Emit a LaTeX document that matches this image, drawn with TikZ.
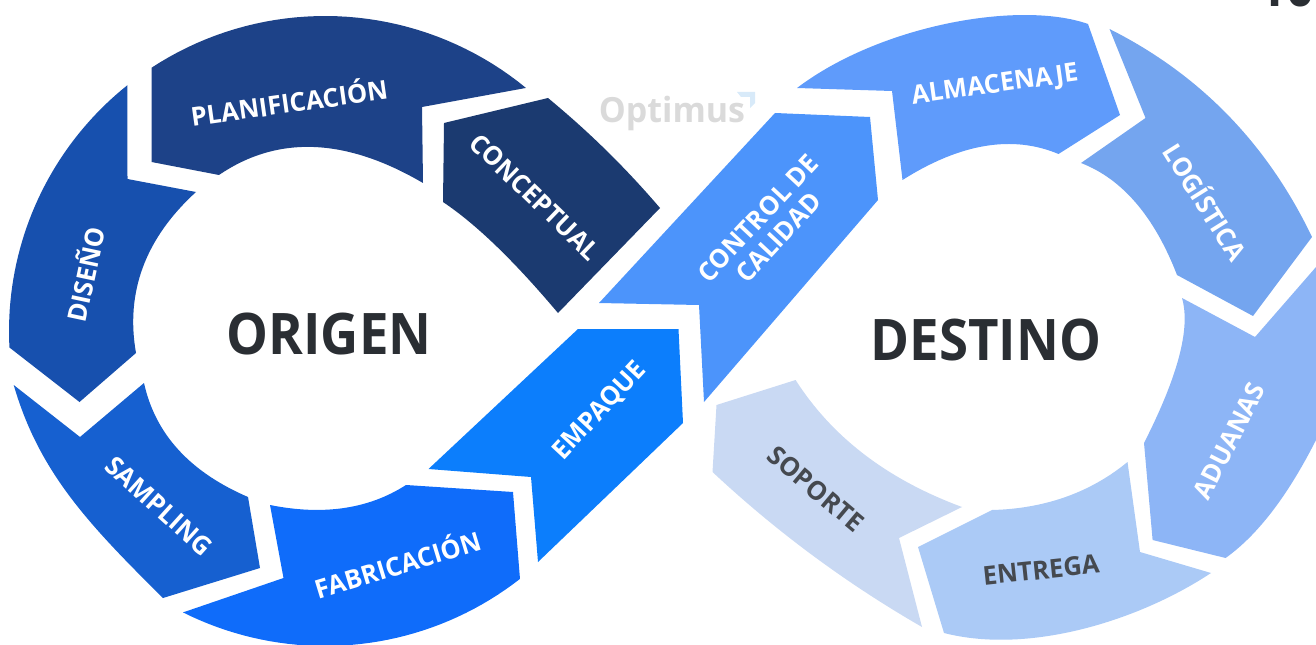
\documentclass[tikz,border=0pt]{standalone}
\usepackage{fontspec}
\setmainfont{Open Sans}
\newfontfamily\semi{Open Sans}[BoldFeatures={FakeStretch=0.98}]
\newfontfamily\heavy{Open Sans}[BoldFeatures={FakeStretch=0.92}]
\definecolor{cConcept}{HTML}{1B3A70}
\definecolor{cPlan}{HTML}{1D4288}
\definecolor{cDis}{HTML}{1750AE}
\definecolor{cSamp}{HTML}{1660D0}
\definecolor{cFab}{HTML}{0F6CFA}
\definecolor{cEmp}{HTML}{0C7EFC}
\definecolor{cCtrl}{HTML}{4C94FB}
\definecolor{cAlm}{HTML}{5F9BFB}
\definecolor{cLog}{HTML}{74A5EF}
\definecolor{cAdu}{HTML}{8DB5F6}
\definecolor{cEnt}{HTML}{ABCAF6}
\definecolor{cSop}{HTML}{C9D9F3}
\definecolor{cDark}{HTML}{2A2E33}
\definecolor{cGreyT}{HTML}{45494F}
\definecolor{cLogo}{HTML}{DADADA}
\definecolor{cLogoA}{HTML}{D8EAF9}
\tikzset{
  lab/.style={font=\semi\bfseries\fontsize{19.5}{21}\selectfont,text=white,inner sep=0pt,align=center},
  labd/.style={lab,text=cGreyT},
  big/.style={font=\heavy\bfseries\fontsize{43}{45}\selectfont,text=cDark,inner sep=0pt},
  ring/.style 2 args={domain=#1:#2,samples=40,variable=\t}
}
\begin{document}
\begin{tikzpicture}[x=0.75pt,y=-0.75pt]
\useasboundingbox (0,0) rectangle (1316,645);
\clip (0,0) rectangle (1316,645);
% planificacion
\fill[cPlan] (151.5,162) -- plot[ring={123.3}{50.5}] ({325+316*cos(\t)},{331-315*sin(\t)}) -- (422,107) -- (423,183) .. controls (345.7,137.7) and (277.7,135) .. (219,175) -- cycle;
% conceptual
\fill[cConcept] (444,123) -- (548,98) .. controls (582.7,126.7) and (620,161.3) .. (660,208) -- (558,313) .. controls (515,262) and (477.3,225) .. (443,202) -- cycle;
% diseno
\fill[cDis] (127.5,179) -- (196,192) .. controls (145.3,238.3) and (125.3,292) .. (136,353) -- (79.5,402) -- plot[ring={-177}{-231.3}] ({325+316*cos(\t)},{331-315*sin(\t)}) -- cycle;
% sampling
\fill[cSamp] (13.7,385) -- (80,437) -- (144,383) .. controls (155.3,434.3) and (190,472) .. (248,497) -- (260,568) -- (163,598) .. controls (89,524.7) and (39.2,472.7) .. (13.7,385) -- cycle;
% fabricacion
\fill[cFab] (270,505) .. controls (323.3,515.7) and (368.7,509) .. (406,485) -- (513,492) -- plot[ring={-51.9}{-116.7}] ({325+316*cos(\t)},{331-315*sin(\t)}) -- (283.5,578) -- cycle;
% empaque
\fill[cEmp] (578,329) -- (678.5,329) -- (683,423) -- (538,562) -- (531,477) -- (428.5,469) -- cycle;
% control
\fill[cCtrl] (775,113) -- (870,117) -- (878,200) -- (704,402) -- (699,305) -- (599,303) -- cycle;
% almacenaje
\fill[cAlm] (797,88) .. controls (880,25) and (1020,0) .. (1088,24) -- (1120,115) -- (1058.5,154) .. controls (1012.5,134.7) and (960.5,143.3) .. (902.5,180) -- (892,91) -- cycle;
% logistica
\fill[cLog] (1109.5,29) .. controls (1199.8,74.3) and (1267.3,143.7) .. (1312,237) -- (1253,316) -- (1177,275) .. controls (1154.3,216.3) and (1122.3,179) .. (1081,163) -- (1145.5,118) -- cycle;
% aduanas
\fill[cAdu] (1182,298) -- (1255,337) -- (1316,267) -- (1320,440) -- (1316,440) .. controls (1287.3,496.7) and (1257.3,535.3) .. (1225.6,558) -- (1152.6,540) -- (1144,443) .. controls (1178,376) and (1190.7,328.3) .. (1182,298) -- cycle;
% entrega
\fill[cEnt] (918,547) -- (992,510) .. controls (1044,508.7) and (1089.8,493) .. (1127.5,462) -- (1140,552) -- (1211,573) .. controls (1140,620) and (1030,655) .. (944,633) -- cycle;
% soporte
\fill[cSop] (716.5,405) -- (795.6,380) .. controls (832.5,437.7) and (888,479.7) .. (962,507) -- (899,538) -- (922,627) .. controls (842.7,581.3) and (773.5,529) .. (712.5,472) -- cycle;
% labels
\node[lab,rotate=8] (tplan) at (289,101) {PLANIFICACIÓN};
\node[lab,rotate=-44] (tconc) at (535,197) {CONCEPTUAL};
\node[lab,rotate=78] (tdis) at (84,274) {DISEÑO};
\node[lab,rotate=-42] (tsamp) at (159,506) {SAMPLING};
\node[lab,rotate=17] (tfab) at (397,563) {FABRICACIÓN};
\node[lab,rotate=47] (temp) at (600,411) {EMPAQUE};
\node[lab,rotate=47] (tctrl) at (768,228) {CONTROL DE\\CALIDAD};
\node[lab,rotate=8] (talm) at (995,86) {ALMACENAJE};
\node[lab,rotate=-58] (tlog) at (1207,201) {LOGÍSTICA};
\node[lab,rotate=63] (tadu) at (1229,441) {ADUANAS};
\node[labd,rotate=6] (tent) at (1041,570) {ENTREGA};
\node[labd,rotate=-40] (tsop) at (816,489) {SOPORTE};
\node[big] (orig) at (329,334) {ORIGEN};
\node[big] (dest) at (986,340) {DESTINO};
\node[font=\semi\bfseries\fontsize{26}{28}\selectfont,text=cLogo,inner sep=0pt] (opt) at (672,113) {Optimus};
\fill[cLogoA] (737,92) -- (755,92) -- (755,103) -- (750,108) -- (750,97) -- (741,97) -- cycle;
\node[anchor=base west,font=\heavy\bfseries\fontsize{40}{42}\selectfont,text=cDark,inner sep=0pt] (corner) at (1258,7) {10};
\end{tikzpicture}
\end{document}
